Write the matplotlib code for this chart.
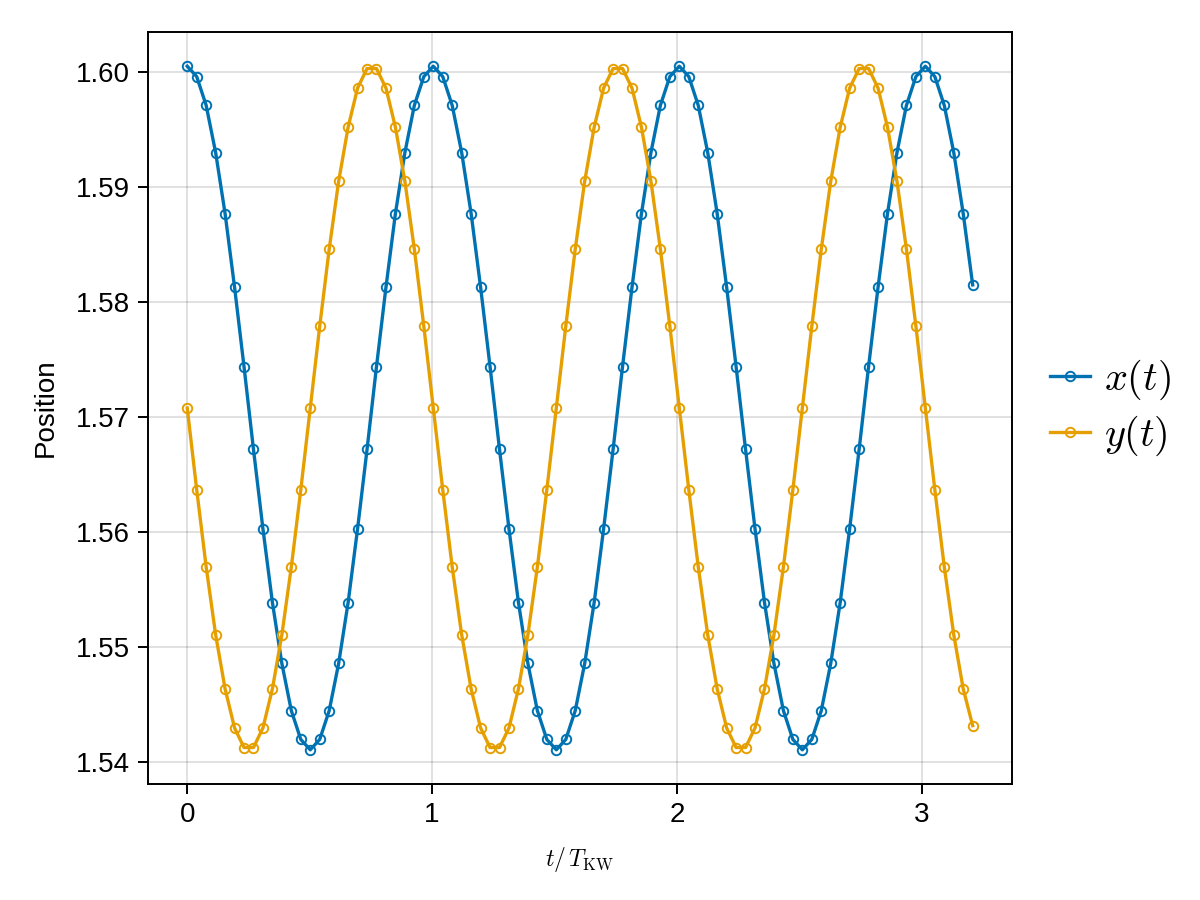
import matplotlib
matplotlib.use('Agg')
import matplotlib.pyplot as plt

# sample times in units of T_KW
t = [0.0000, 0.0387, 0.0773, 0.1160, 0.1546, 0.1933, 0.2319, 0.2706, 0.3092, 0.3479,
     0.3865, 0.4252, 0.4638, 0.5025, 0.5411, 0.5798, 0.6184, 0.6571, 0.6957, 0.7344,
     0.7730, 0.8117, 0.8503, 0.8890, 0.9276, 0.9663, 1.0049, 1.0436, 1.0822, 1.1209,
     1.1595, 1.1982, 1.2368, 1.2755, 1.3141, 1.3528, 1.3914, 1.4301, 1.4687, 1.5074,
     1.5460, 1.5847, 1.6233, 1.6620, 1.7006, 1.7393, 1.7779, 1.8166, 1.8552, 1.8939,
     1.9325, 1.9712, 2.0098, 2.0485, 2.0871, 2.1258, 2.1644, 2.2031, 2.2417, 2.2804,
     2.3190, 2.3577, 2.3963, 2.4350, 2.4736, 2.5123, 2.5509, 2.5896, 2.6282, 2.6669,
     2.7055, 2.7442, 2.7828, 2.8215, 2.8601, 2.8988, 2.9374, 2.9761, 3.0147, 3.0534,
     3.0920, 3.1307, 3.1693, 3.2080]

x_pos = [1.6005, 1.5996, 1.5971, 1.5930, 1.5877, 1.5813, 1.5744, 1.5672, 1.5603, 1.5539,
         1.5486, 1.5445, 1.5420, 1.5411, 1.5420, 1.5445, 1.5486, 1.5539, 1.5603, 1.5672,
         1.5744, 1.5813, 1.5877, 1.5930, 1.5971, 1.5996,
         1.6005, 1.5996, 1.5971, 1.5930, 1.5877, 1.5813, 1.5744, 1.5672, 1.5603, 1.5539,
         1.5486, 1.5445, 1.5420, 1.5411, 1.5420, 1.5445, 1.5486, 1.5539, 1.5603, 1.5672,
         1.5744, 1.5813, 1.5877, 1.5930, 1.5971, 1.5996,
         1.6005, 1.5996, 1.5971, 1.5930, 1.5877, 1.5813, 1.5744, 1.5672, 1.5603, 1.5539,
         1.5486, 1.5445, 1.5420, 1.5411, 1.5420, 1.5445, 1.5486, 1.5539, 1.5603, 1.5672,
         1.5744, 1.5813, 1.5877, 1.5930, 1.5971, 1.5996,
         1.6005, 1.5996, 1.5971, 1.5930, 1.5877, 1.5815]

y_pos = [1.5708, 1.5637, 1.5570, 1.5511, 1.5464, 1.5430, 1.5413, 1.5413, 1.5430, 1.5464,
         1.5511, 1.5570, 1.5637, 1.5708, 1.5779, 1.5846, 1.5905, 1.5952, 1.5986, 1.6003,
         1.6003, 1.5986, 1.5952, 1.5905, 1.5846, 1.5779,
         1.5708, 1.5637, 1.5570, 1.5511, 1.5464, 1.5430, 1.5413, 1.5413, 1.5430, 1.5464,
         1.5511, 1.5570, 1.5637, 1.5708, 1.5779, 1.5846, 1.5905, 1.5952, 1.5986, 1.6003,
         1.6003, 1.5986, 1.5952, 1.5905, 1.5846, 1.5779,
         1.5708, 1.5637, 1.5570, 1.5511, 1.5464, 1.5430, 1.5413, 1.5413, 1.5430, 1.5464,
         1.5511, 1.5570, 1.5637, 1.5708, 1.5779, 1.5846, 1.5905, 1.5952, 1.5986, 1.6003,
         1.6003, 1.5986, 1.5952, 1.5905, 1.5846, 1.5779,
         1.5708, 1.5637, 1.5570, 1.5511, 1.5464, 1.5432]

x_ticks = [0, 1, 2, 3]
y_ticks = [1.54, 1.55, 1.56, 1.57, 1.58, 1.59, 1.60]

plt.rcParams['font.family'] = ['Liberation Sans', 'DejaVu Sans']
plt.rcParams['mathtext.fontset'] = 'cm'

fig = plt.figure(figsize=(6, 4.5), dpi=200)
ax = fig.add_axes([0.1233, 0.1289, 0.72, 0.8355])

style = dict(linewidth=1.2, marker='o', markersize=3.4, markerfacecolor='none',
             markeredgewidth=0.7)
ax.plot(t, x_pos, color='#0072B2', label=r'$x(t)$', **style)
ax.plot(t, y_pos, color='#E69F00', label=r'$y(t)$', **style)

ax.margins(0.05)
ax.set_xticks(x_ticks)
ax.set_yticks(y_ticks)
ax.set_yticklabels([f'{v:.2f}' for v in y_ticks])
ax.tick_params(labelsize=10, length=3.6, width=0.7, direction='out', pad=3)
ax.grid(True, color='black', alpha=0.12, linewidth=0.7)
ax.set_axisbelow(True)
for s in ax.spines.values():
    s.set_linewidth(0.7)

ax.set_xlabel(r'$t/\,T_{\mathrm{KW}}$', fontsize=8.5, labelpad=6)
ax.set_ylabel('Position', fontsize=10, labelpad=6)

ax.legend(loc='center left', bbox_to_anchor=(1.011, 0.5), frameon=False,
          fontsize=14.5, handlelength=1.0, handletextpad=0.35, borderaxespad=0.3,
          labelspacing=0.3)

fig.savefig('out.png', dpi=200)
